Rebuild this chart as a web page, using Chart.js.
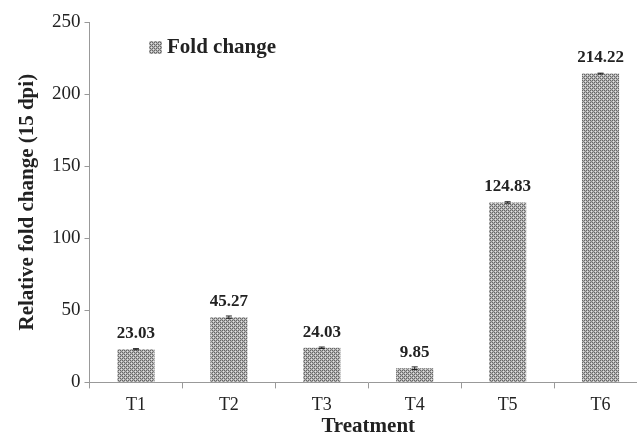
<!DOCTYPE html>
<html>
<head>
<meta charset="utf-8">
<script src="https://cdn.jsdelivr.net/npm/chart.js@4.4.1/dist/chart.umd.min.js"></script>
<style>
  html, body { margin: 0; padding: 0; background: #fff; overflow: hidden; }
  #wrap { width: 648px; height: 437px; position: relative; }
</style>
</head>
<body>
<div id="wrap"><canvas id="grafico"></canvas></div>
<script>
const categorias = ['T1', 'T2', 'T3', 'T4', 'T5', 'T6'];
const foldChange = [23.03, 45.27, 24.03, 9.85, 124.83, 214.22];
const erros = [0.4, 0.8, 0.5, 0.9, 0.5, 0.3];
const yTicks = [0, 50, 100, 150, 200, 250];

const serif = '"Liberation Serif", "Times New Roman", serif';

// checkered grey fill like the printed figure
const makePattern = () => {
    const c = document.createElement('canvas');
    c.width = 4; c.height = 4;
    const g = c.getContext('2d');
    g.fillStyle = '#b4b4b4';
    g.fillRect(0, 0, 4, 4);
    g.fillStyle = '#666';
    g.fillRect(0, 0, 1, 1); g.fillRect(2, 2, 1, 1);
    g.fillRect(2, 0, 1, 1); g.fillRect(0, 2, 1, 1);
    g.fillStyle = '#e4e4e4';
    g.fillRect(1, 1, 1, 1); g.fillRect(3, 3, 1, 1);
    g.fillStyle = '#888';
    g.fillRect(1, 3, 1, 1); g.fillRect(3, 1, 1, 1);
    return g.createPattern(c, 'repeat');
};
const padrao = makePattern();

const extras = {
    id: 'extras',
    afterDatasetsDraw(chart) {
        const ctx = chart.ctx;
        const meta = chart.getDatasetMeta(0);
        const y = chart.scales.y;
        ctx.save();
        meta.data.forEach((bar, i) => {
            const v = foldChange[i];
            const e = erros[i];
            const yt = y.getPixelForValue(v + e);
            const yb = y.getPixelForValue(v - e);
            ctx.strokeStyle = '#222';
            ctx.lineWidth = 1;
            ctx.beginPath();
            ctx.moveTo(bar.x, yt); ctx.lineTo(bar.x, yb);
            ctx.moveTo(bar.x - 3, yt); ctx.lineTo(bar.x + 3, yt);
            ctx.moveTo(bar.x - 3, yb); ctx.lineTo(bar.x + 3, yb);
            ctx.stroke();
            ctx.fillStyle = '#222';
            ctx.font = 'bold 17px ' + serif;
            ctx.textAlign = 'center';
            ctx.textBaseline = 'bottom';
            ctx.fillText(v.toFixed(2), bar.x, y.getPixelForValue(v) - 7);
        });
        // legend
        ctx.fillStyle = padrao;
        ctx.fillRect(149, 41, 13, 13);
        ctx.fillStyle = '#222';
        ctx.font = 'bold 21px ' + serif;
        ctx.textAlign = 'left';
        ctx.textBaseline = 'middle';
        ctx.fillText('Fold change', 167, 48);
        ctx.restore();
    }
};

new Chart(document.getElementById('grafico'), {
    type: 'bar',
    data: {
        labels: categorias,
        datasets: [{
            label: 'Fold change',
            data: foldChange,
            backgroundColor: padrao,
            borderWidth: 0,
            categoryPercentage: 1,
            barPercentage: 0.4
        }]
    },
    plugins: [extras],
    options: {
        responsive: true,
        maintainAspectRatio: false,
        animation: false,
        layout: { padding: { top: 22, right: 1, left: 17, bottom: 0 } },
        plugins: {
            legend: { display: false },
            tooltip: { enabled: false }
        },
        scales: {
            x: {
                grid: { drawOnChartArea: false, drawTicks: true, tickLength: 6, color: '#999', offset: true },
                border: { color: '#999' },
                ticks: { color: '#222', font: { family: serif, size: 18 }, padding: 6 },
                title: { display: true, text: 'Treatment', color: '#222', font: { family: serif, size: 21, weight: 'bold', lineHeight: 1 }, padding: { top: -6, bottom: 0 } }
            },
            y: {
                min: 0,
                max: 250,
                afterBuildTicks: (s) => { s.ticks = yTicks.map(v => ({ value: v })); },
                grid: { drawOnChartArea: false, drawTicks: true, tickLength: 5, color: '#999' },
                border: { color: '#999' },
                ticks: { color: '#222', font: { family: serif, size: 19 }, padding: 4 },
                title: { display: true, text: 'Relative fold change (15 dpi)', color: '#222', font: { family: serif, size: 21, weight: 'bold', lineHeight: 1 }, padding: { top: 0, bottom: 10 } }
            }
        }
    }
});
</script>
</body>
</html>
